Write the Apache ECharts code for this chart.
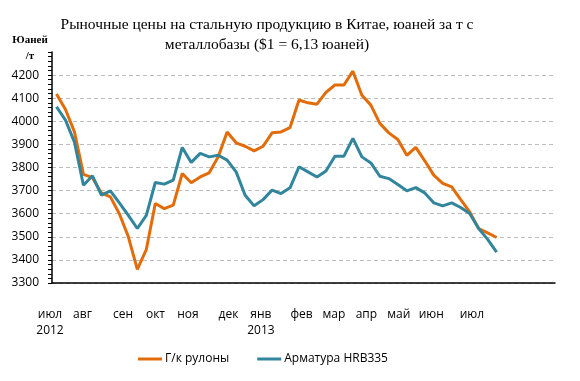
<!DOCTYPE html>
<html>
<head>
<meta charset="utf-8">
<script src="https://cdn.jsdelivr.net/npm/echarts@6/dist/echarts.min.js"></script>
<style>
html,body{margin:0;padding:0;background:#fff;}
#c{width:580px;height:381px;}
</style>
</head>
<body>
<div id="c"></div>
<script>
// Data points (weekly-ish observations), 50 points, plus empty slots at the end of the axis
var pointCount = 56;
var hotRolled = [4118,4051,3954,3770,3756,3690,3673,3600,3500,3359,
                 3445,3644,3622,3637,3774,3734,3759,3777,3846,3954,
                 3907,3892,3872,3892,3950,3954,3973,4092,4080,4074,
                 4125,4157,4157,4217,4113,4070,3991,3950,3921,3853,
                 3887,3829,3767,3731,3716,3661,3608,3536,3517,3497];
var rebar     = [4063,4005,3910,3723,3764,3680,3699,3647,3593,3536,
                 3593,3735,3728,3745,3887,3822,3861,3846,3853,3832,
                 3781,3680,3634,3661,3702,3687,3712,3803,3781,3759,
                 3785,3849,3849,3926,3846,3820,3762,3752,3726,3699,
                 3713,3690,3647,3634,3647,3627,3601,3536,3489,3434];
var seriesNames = ['Г/к рулоны', 'Арматура HRB335'];
// Month tick labels on a weekly grid (63 weekly slots)
var weekSlots = 63;
var monthLabelWeeks = [0,4,9,13,17,22,26,31,35,39,43,47,52];
var monthLabels = ['июл\n2012','авг','сен','окт','ноя','дек','янв\n2013','фев','мар','апр','май','июн','июл'];
var yTicks = {min:3300, max:4300, interval:100};

var pointCats = [];
for (var i = 0; i < pointCount; i++) pointCats.push(String(i + 1));
var weekCats = [];
for (var w = 0; w < weekSlots; w++) {
  var k = monthLabelWeeks.indexOf(w);
  weekCats.push(k >= 0 ? monthLabels[k] : '');
}

var chart = echarts.init(document.getElementById('c'), null, {renderer:'canvas'});
chart.setOption({
  animation:false,
  backgroundColor:'#fff',
  title:[{
    text:'Рыночные цены на стальную продукцию в Китае, юаней за т с\nметаллобазы ($1 = 6,13 юаней)',
    left:262, top:10, textAlign:'center',
    textStyle:{fontFamily:'Liberation Serif', fontSize:15.5, fontWeight:'normal', color:'#000', lineHeight:20}
  },{
    text:'Юаней\n/т',
    left:25, top:27, textAlign:'center',
    textStyle:{fontFamily:'Liberation Serif', fontSize:11, fontWeight:'bold', color:'#000', lineHeight:16}
  }],
  legend:{
    data:seriesNames,
    left:138, top:353, padding:0,
    icon:'rect', itemWidth:24, itemHeight:3, itemGap:28,
    textStyle:{fontFamily:'Open Sans', fontSize:12, color:'#000', padding:[0,0,0,-2]}
  },
  grid:{left:52, right:25, top:52, bottom:98, containLabel:false},
  xAxis:[{
    type:'category', data:pointCats, boundaryGap:true, position:'bottom',
    axisLine:{lineStyle:{color:'#000', width:1.5}},
    axisTick:{show:false}, axisLabel:{show:false}, splitLine:{show:false}
  },{
    type:'category', data:weekCats, boundaryGap:false, position:'bottom',
    axisLine:{show:false}, axisTick:{show:false}, splitLine:{show:false},
    axisLabel:{interval:0, margin:24, fontFamily:'Open Sans', fontSize:12, color:'#000', lineHeight:16, padding:[0,4,0,0]}
  }],
  yAxis:{
    type:'value', min:yTicks.min, max:yTicks.max, interval:yTicks.interval,
    axisLine:{show:true, lineStyle:{color:'#000', width:1.5}},
    axisTick:{show:true, length:4, lineStyle:{color:'#000'}},
    minorTick:{show:true, splitNumber:5, length:4, lineStyle:{color:'#000'}},
    axisLabel:{margin:13, fontFamily:'Open Sans', fontSize:12, color:'#000', showMaxLabel:false,
      formatter:function(v){ return String(v); }},
    splitLine:{show:true, showMaxLine:false, lineStyle:{color:'#BDBDBD', type:[4,3], width:1}}
  },
  series:[{
    name:seriesNames[0], type:'line', xAxisIndex:0, data:hotRolled,
    symbol:'none', lineStyle:{color:'#E36C0A', width:3}, itemStyle:{color:'#E36C0A'}
  },{
    name:seriesNames[1], type:'line', xAxisIndex:0, data:rebar,
    symbol:'none', lineStyle:{color:'#31859C', width:3}, itemStyle:{color:'#31859C'}
  }]
});
</script>
</body>
</html>
